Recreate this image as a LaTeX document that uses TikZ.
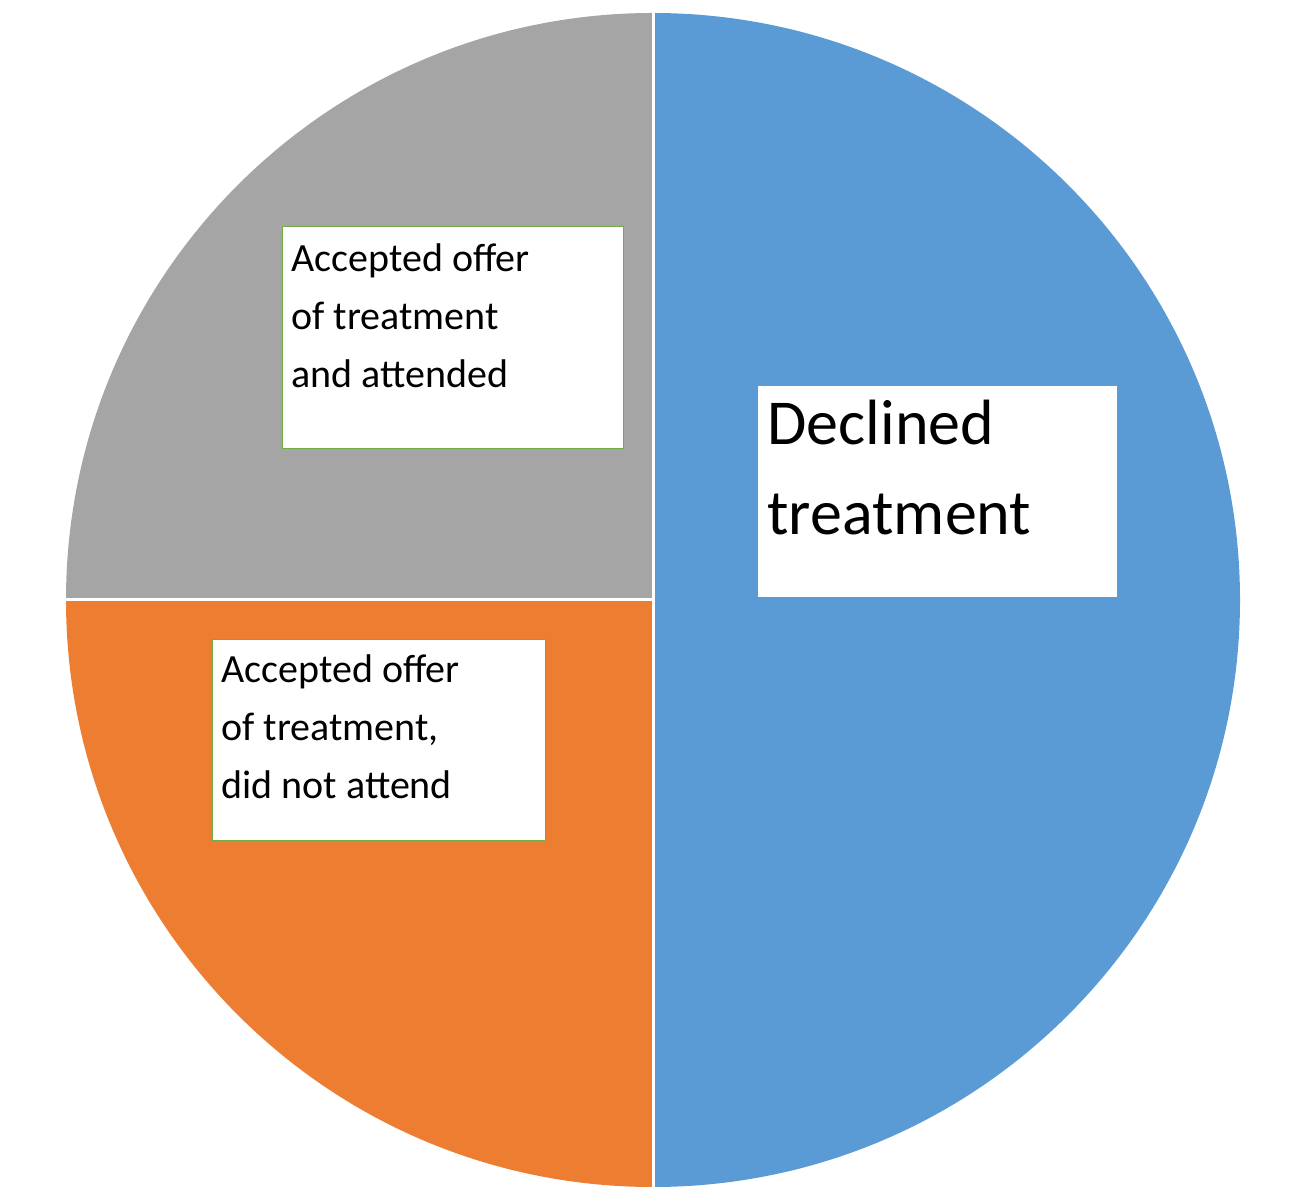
\documentclass[tikz,border=0pt]{standalone}
\usepackage{fontspec}
\setmainfont{Carlito}
\definecolor{pblue}{HTML}{5B9BD5}
\definecolor{porange}{HTML}{ED7D31}
\definecolor{pgray}{HTML}{A5A5A5}
\definecolor{pgreen}{HTML}{70AD47}
\begin{document}
\begin{tikzpicture}[x=1pt,y=1pt,
  lab/.style={draw=pgreen,line width=1.2pt,fill=white,align=left,anchor=north west,inner sep=0pt},
  sep/.style={draw=white,line width=3pt}]
\useasboundingbox (0,0) rectangle (1290,1200);
\coordinate (c) at (653,600);
\fill[pblue] (c) -- (653,1187) arc (90:-90:587) -- cycle;
\fill[porange] (c) -- (653,13) arc (-90:-180:587) -- cycle;
\fill[pgray] (c) -- (66,600) arc (180:90:587) -- cycle;
\draw[sep] (653,1190) -- (653,10);
\draw[sep] (c) -- (63,600);
\node[lab,minimum width=341,minimum height=222] (b1) at (282,974) {};
\node[anchor=north west,align=left,font=\fontsize{40}{58}\selectfont] (t1) at (288,960) {Accepted offer\\of treatment\\and attended};
\node[lab,minimum width=333,minimum height=201] (b2) at (212,561) {};
\node[anchor=north west,align=left,font=\fontsize{40}{58}\selectfont] (t2) at (218,549) {Accepted offer\\of treatment,\\did not attend};
\node[lab,minimum width=360,minimum height=212] (b3) at (757,815) {};
\node[anchor=north west,align=left,font=\fontsize{64}{90}\selectfont] (t3) at (764,803) {Declined\\treatment};
\end{tikzpicture}
\end{document}
